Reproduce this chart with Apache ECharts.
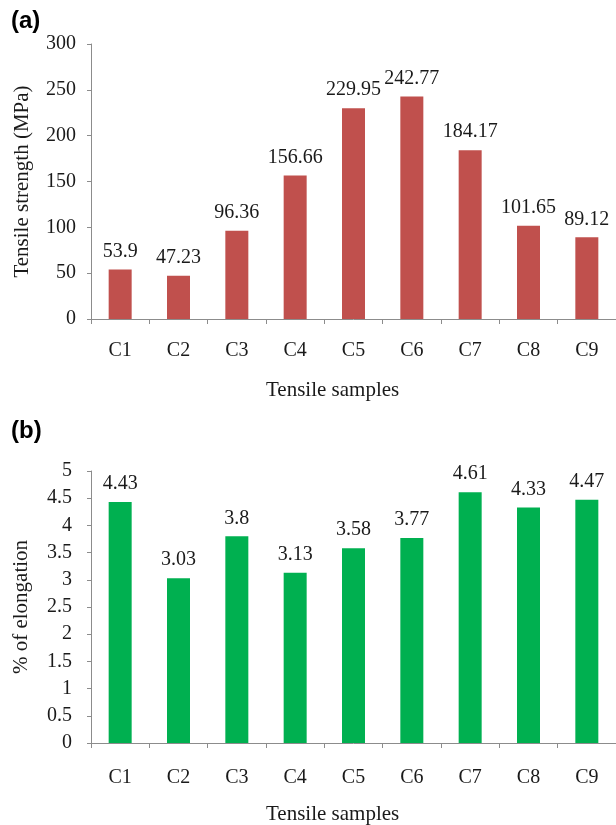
<!DOCTYPE html>
<html>
<head>
<meta charset="utf-8">
<script src="https://cdn.jsdelivr.net/npm/echarts@6/dist/echarts.min.js"></script>
<style>
  html, body { margin: 0; padding: 0; background: #fff; }
  #chart { width: 616px; height: 825px; }
</style>
</head>
<body>
<div id="chart"></div>
<script>
// Sample names shared by both panels
const samples = ['C1', 'C2', 'C3', 'C4', 'C5', 'C6', 'C7', 'C8', 'C9'];
// Panel (a): tensile strength, MPa
const tensileStrength = [53.9, 47.23, 96.36, 156.66, 229.95, 242.77, 184.17, 101.65, 89.12];
// Panel (b): elongation, %
const elongation = [4.43, 3.03, 3.8, 3.13, 3.58, 3.77, 4.61, 4.33, 4.47];

const serif = '"Liberation Serif", "Times New Roman", serif';
const axisGrey = '#8c8c8c';
const textCol = '#1a1a1a';

function xAxisCfg(gridIndex, margin) {
  return {
    type: 'category', gridIndex: gridIndex, data: samples,
    axisLine: { lineStyle: { color: axisGrey, width: 1 } },
    axisTick: { show: true, length: 5, lineStyle: { color: axisGrey } },
    axisLabel: { fontFamily: serif, fontSize: 20, color: textCol, margin: margin },
    splitLine: { show: false }
  };
}
function yAxisCfg(gridIndex, max, interval, name, nameGap, labelMargin) {
  return {
    type: 'value', gridIndex: gridIndex, min: 0, max: max, interval: interval,
    name: name, nameLocation: 'middle', nameGap: nameGap,
    nameTextStyle: { fontFamily: serif, fontSize: 21, color: textCol },
    axisLine: { show: true, lineStyle: { color: axisGrey, width: 1 } },
    axisTick: { show: true, length: 4, lineStyle: { color: axisGrey } },
    axisLabel: { fontFamily: serif, fontSize: 20, color: textCol, margin: labelMargin },
    splitLine: { show: false }
  };
}
function valueLabel() {
  return { show: true, position: 'top', distance: 8, fontFamily: serif, fontSize: 20, color: textCol,
           formatter: p => String(p.value) };
}

const chart = echarts.init(document.getElementById('chart'), null, { renderer: 'canvas' });
chart.setOption({
  backgroundColor: '#ffffff',
  animation: false,
  title: [
    { text: '(a)', left: 6, top: 4, textStyle: { fontFamily: '"Liberation Sans", Arial, sans-serif', fontSize: 24, fontWeight: 'bold', color: '#000' } },
    { text: '(b)', left: 6, top: 414, textStyle: { fontFamily: '"Liberation Sans", Arial, sans-serif', fontSize: 24, fontWeight: 'bold', color: '#000' } },
    { text: 'Tensile samples', left: 261, top: 375, textStyle: { fontFamily: serif, fontSize: 21, fontWeight: 'normal', color: textCol } },
    { text: 'Tensile samples', left: 261, top: 799, textStyle: { fontFamily: serif, fontSize: 21, fontWeight: 'normal', color: textCol } }
  ],
  grid: [
    { left: 91, top: 44, width: 528, height: 275, containLabel: false },
    { left: 91, top: 471, width: 528, height: 272, containLabel: false }
  ],
  xAxis: [xAxisCfg(0, 22), xAxisCfg(1, 25)],
  yAxis: [
    yAxisCfg(0, 300, 50, 'Tensile strength (MPa)', 58, 15),
    yAxisCfg(1, 5, 0.5, '% of elongation', 59, 19)
  ],
  series: [
    {
      type: 'bar', xAxisIndex: 0, yAxisIndex: 0, data: tensileStrength,
      barWidth: 23,
      itemStyle: { color: '#c0504d' },
      label: valueLabel()
    },
    {
      type: 'bar', xAxisIndex: 1, yAxisIndex: 1, data: elongation,
      barWidth: 23,
      itemStyle: { color: '#00b050' },
      label: valueLabel()
    }
  ]
});
</script>
</body>
</html>
